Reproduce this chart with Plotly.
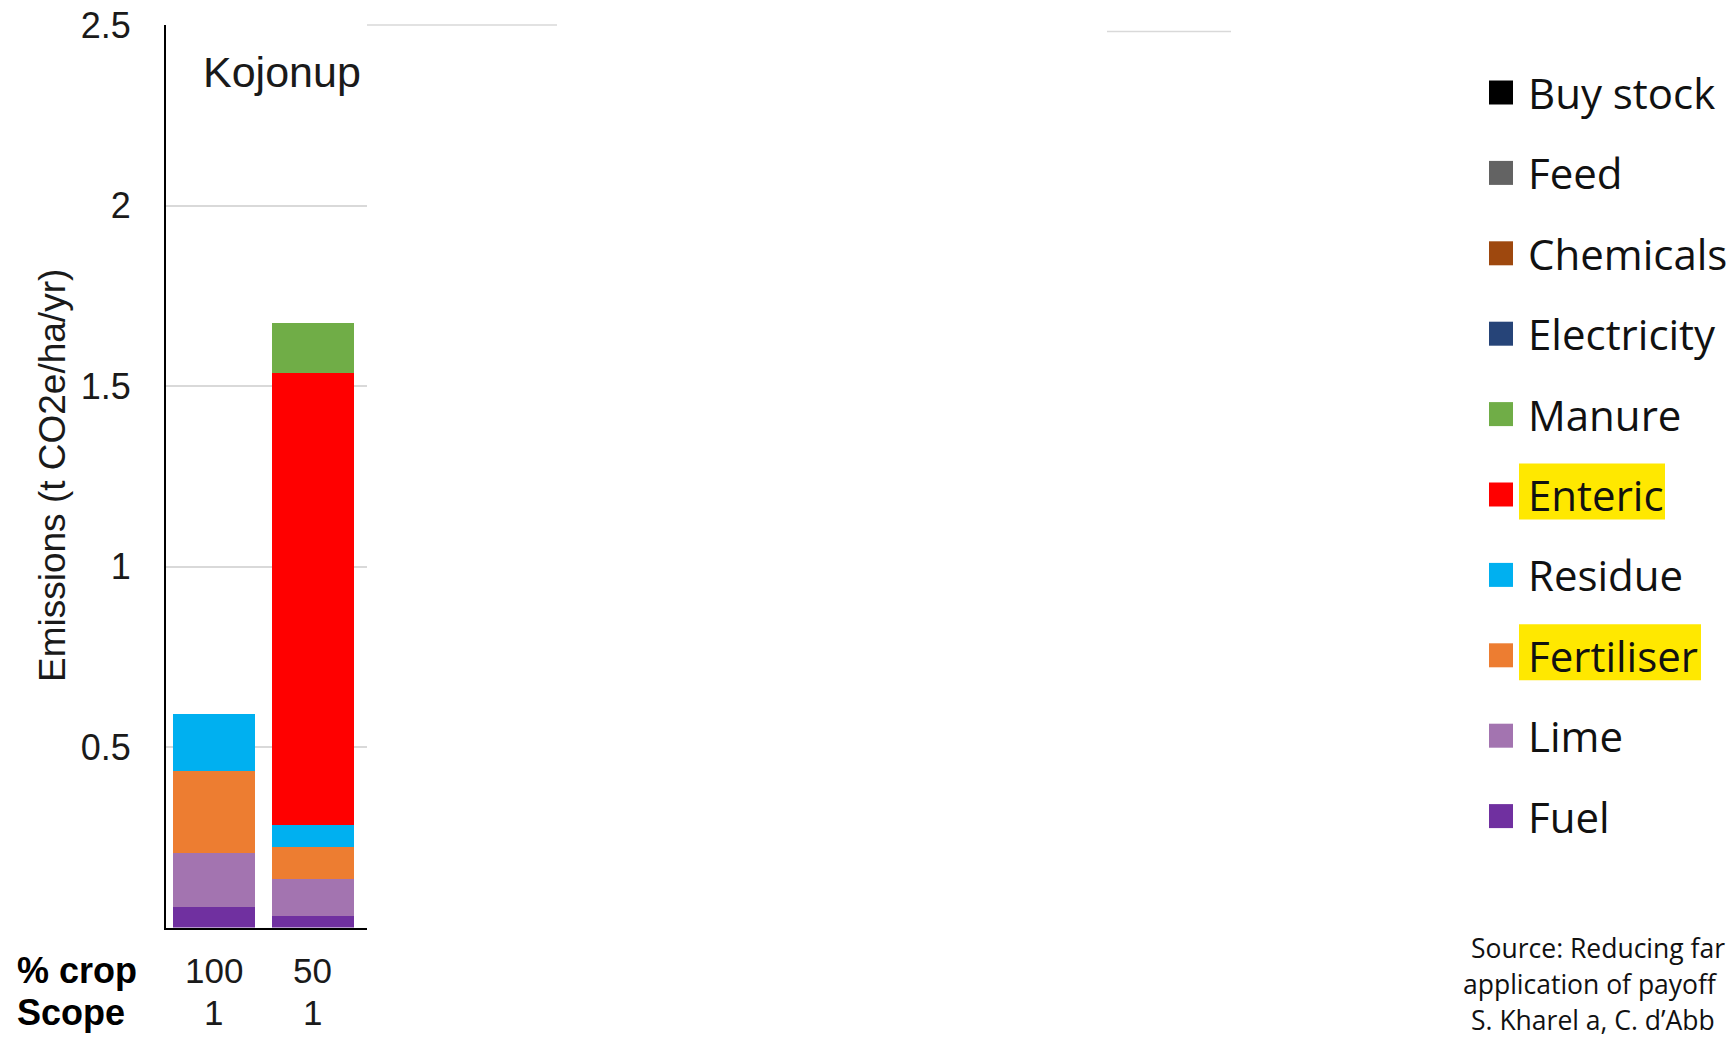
import plotly.graph_objects as go

W, H = 1729, 1038

# ---- data ----
categories = ["100", "50"]            # % crop
scope = ["1", "1"]                    # Scope
series_names = ["Fuel", "Lime", "Fertiliser", "Residue", "Enteric", "Manure",
                "Electricity", "Chemicals", "Feed", "Buy stock"]
fuel = [0.058, 0.033]
lime = [0.148, 0.101]
fertiliser = [0.228, 0.090]
residue = [0.157, 0.060]
enteric = [0.0, 1.251]
manure = [0.0, 0.140]
electricity = [0.0, 0.0]
chemicals = [0.0, 0.0]
feed = [0.0, 0.0]
buy_stock = [0.0, 0.0]
series_values = [fuel, lime, fertiliser, residue, enteric, manure,
                 electricity, chemicals, feed, buy_stock]
series_colors = ["#7030A0", "#A374B0", "#ED7D31", "#00B0F0", "#FF0000",
                 "#70AD47", "#264478", "#9E480E", "#636363", "#000000"]
y_ticks = [0.5, 1, 1.5, 2, 2.5]
y_ticktext = ["0.5", "1", "1.5", "2", "2.5"]
highlighted = ["Enteric", "Fertiliser"]
source_lines = ["Source: Reducing far", "application of payoff", "S. Kharel a, C. d\u2019Abb"]


def px(x):
    return x / W


def py(y):
    return 1 - y / H


fig = go.Figure()
for name, vals, col in zip(series_names, series_values, series_colors):
    fig.add_trace(go.Bar(x=categories, y=vals, name=name, marker_color=col,
                         marker_line_width=0, width=0.83, showlegend=False))

x0_px, x1_px = 166, 367
y0_px, y1_px = 927.5, 25

fig.update_layout(
    width=W, height=H, barmode="stack",
    margin=dict(l=0, r=0, t=0, b=0, autoexpand=False),
    paper_bgcolor="white", plot_bgcolor="white", showlegend=False,
    font=dict(family="Liberation Sans, Arial, sans-serif", color="#1a1a1a"),
    xaxis=dict(type="category", domain=[px(x0_px), px(x1_px)], range=[-0.482, 1.55],
               automargin=False,
               showticklabels=False, showgrid=False, zeroline=False,
               showline=True, linecolor="black", linewidth=2, ticks=""),
    yaxis=dict(domain=[py(y0_px), py(y1_px)], range=[0, 2.5], automargin=False,
               tickvals=y_ticks, ticktext=y_ticktext,
               tickfont=dict(size=36, family="Liberation Sans, Arial", color="#1a1a1a"),
               ticklabelstandoff=26,
               showgrid=True, gridcolor="#d9d9d9", gridwidth=1.5,
               zeroline=False, showline=True, linecolor="black", linewidth=2,
               ticks=""),
)

ann = []
# chart label
ann.append(dict(text="Kojonup", x=px(282), y=py(72), xref="paper", yref="paper",
                showarrow=False, font=dict(size=43, family="Liberation Sans, Arial", color="#1a1a1a"),
                xanchor="center", yanchor="middle"))
# y title
ann.append(dict(text="Emissions (t CO2e/ha/yr)", x=px(53), y=py(476), xref="paper", yref="paper",
                showarrow=False, textangle=-90,
                font=dict(size=37, family="Liberation Sans, Arial", color="#1a1a1a"),
                xanchor="center", yanchor="middle"))
# category rows
row1_y, row2_y = 970, 1012
ann.append(dict(text="<b>% crop</b>", x=px(15), y=py(row1_y), xref="paper", yref="paper",
                showarrow=False, font=dict(size=36, family="Liberation Sans, Arial", color="black"),
                xanchor="left", yanchor="middle"))
ann.append(dict(text="<b>Scope</b>", x=px(15), y=py(row2_y), xref="paper", yref="paper",
                showarrow=False, font=dict(size=36, family="Liberation Sans, Arial", color="black"),
                xanchor="left", yanchor="middle"))
for i, (c, s) in enumerate(zip(categories, scope)):
    ann.append(dict(text=c, x=i, y=py(row1_y), xref="x", yref="paper", showarrow=False,
                    font=dict(size=35, family="Liberation Sans, Arial", color="#1a1a1a"),
                    xanchor="center", yanchor="middle"))
    ann.append(dict(text=s, x=i, y=py(row2_y), xref="x", yref="paper", showarrow=False,
                    font=dict(size=35, family="Liberation Sans, Arial", color="#1a1a1a"),
                    xanchor="center", yanchor="middle"))

shapes = []
# extended top gridline and stray line from original slide
shapes.append(dict(type="line", xref="paper", yref="paper", x0=px(x1_px), x1=px(557),
                   y0=py(25), y1=py(25), line=dict(color="#d9d9d9", width=1.5)))
shapes.append(dict(type="line", xref="paper", yref="paper", x0=px(1107), x1=px(1231),
                   y0=py(31.5), y1=py(31.5), line=dict(color="#d9d9d9", width=1.5)))

# custom legend (top item = last series)
legend_names = series_names[::-1]
legend_colors = series_colors[::-1]
row0, step = 92.5, 80.4
hl_width = {"Enteric": 146, "Fertiliser": 182}
for i, (n, c) in enumerate(zip(legend_names, legend_colors)):
    cy = row0 + i * step
    if n in highlighted:
        shapes.append(dict(type="rect", xref="paper", yref="paper",
                           x0=px(1519), x1=px(1519 + hl_width[n]),
                           y0=py(cy + 25), y1=py(cy - 31),
                           fillcolor="#FFE800", line=dict(width=0), layer="below"))
    shapes.append(dict(type="rect", xref="paper", yref="paper",
                       x0=px(1489), x1=px(1513), y0=py(cy + 12), y1=py(cy - 12),
                       fillcolor=c, line=dict(width=0)))
    ann.append(dict(text=n, x=px(1526), y=py(cy), xref="paper", yref="paper",
                    showarrow=False, font=dict(size=42, family="Open Sans", color="#111111"),
                    xanchor="left", yanchor="middle"))

# source text
src_x = [1469, 1461, 1469]
src_y = [948, 984, 1020]
for t, sx, sy in zip(source_lines, src_x, src_y):
    ann.append(dict(text=t, x=px(sx), y=py(sy), xref="paper", yref="paper",
                    showarrow=False, font=dict(size=26.5, family="Open Sans", color="#111111"),
                    xanchor="left", yanchor="middle"))

fig.update_layout(annotations=ann, shapes=shapes)
fig.write_html("out.html")
